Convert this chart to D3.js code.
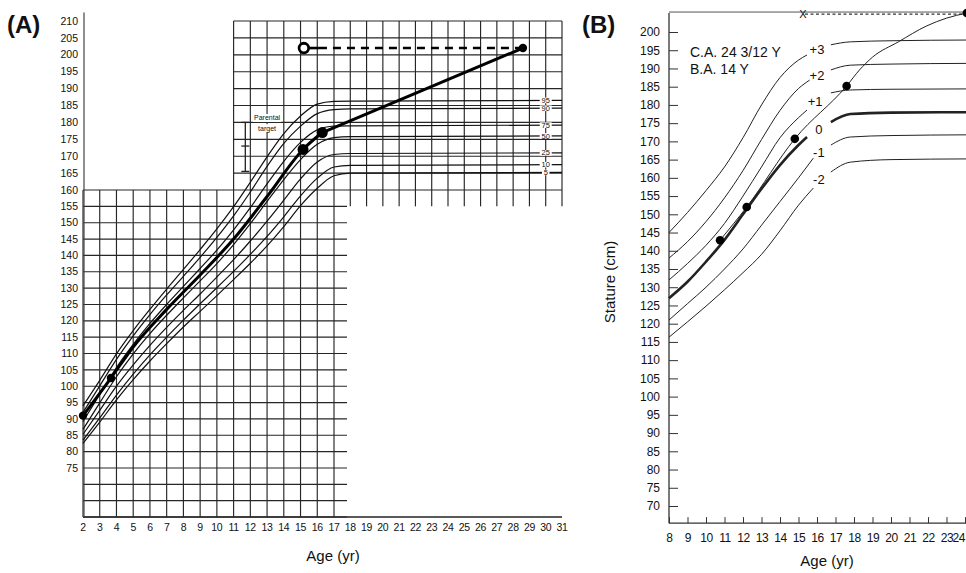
<!DOCTYPE html>
<html><head><meta charset="utf-8">
<script src="https://cdn.jsdelivr.net/npm/d3@7"></script>
<style>body{margin:0;background:#fff} svg{display:block} text{font-family:"Liberation Sans",Arial,sans-serif;fill:#111}</style>
</head><body>
<svg id="c" width="966" height="573"></svg>
<script>
// ---------- Panel A data (percentile chart, stature cm) ----------
const ageA = [2,3,4,5,6,7,8,9,10,11,12,13,14,15,16,17,18,31];
const p5  = [82.5,89.0,95.8,102.0,107.7,113.0,118.1,122.9,127.7,132.6,137.6,142.9,148.8,155.2,160.5,164.2,165.0,165.2];
const p10 = [83.5,90.3,97.3,103.7,109.6,115.0,120.2,125.2,130.1,135.1,140.3,145.8,151.8,158.2,163.5,166.8,167.3,167.5];
const p25 = [85.3,92.6,100.0,106.5,112.5,118.0,123.2,128.2,133.4,138.7,144.4,150.5,156.9,163.3,168.3,170.5,170.8,171.0];
const p50 = [86.8,94.9,102.9,109.9,116.1,121.7,127.0,132.2,137.5,143.3,149.7,156.5,163.1,169.0,173.5,175.5,175.8,176.0];
const p75 = [89.2,97.5,105.7,112.8,119.2,125.0,130.5,136.0,141.6,147.8,154.6,161.8,168.5,174.1,177.8,178.9,179.0,179.2];
const p90 = [92.0,100.1,108.2,115.4,121.9,127.9,133.6,139.4,145.5,152.1,159.4,167.0,173.8,178.9,182.6,183.8,184.0,184.2];
const p95 = [94.0,101.8,109.9,117.0,123.5,129.7,135.7,141.8,148.1,154.9,162.3,169.8,176.7,181.9,185.4,186.2,186.3,186.5];
const pctNames = ["5","10","25","50","75","90","95"];
const pctSeries = [p5,p10,p25,p50,p75,p90,p95];
const xTicksA = d3.range(2,32);
const yTicksA = d3.range(75,211,5);
// patient (A)
const patAgeA = [2,3.67,5,7,9,11,13,15.15,16.3];
const patHtA  = [91,102.5,112,123.5,134,145,158,172,177];
const patDotAgeA = [2,3.67,15.15,16.3,28.6];
const patDotHtA  = [91,102.5,172,177,202];
const predAge = [15.2,28.6]; const predHt = [202,202];
const parentAge = 11.7; const parentRange = [165.5,173,180];

// ---------- Panel B data (SD chart) ----------
const bAges = [8,9,10,11,12,13,14,15];
const sdNames = ["-2","-1","0","+1","+2","+3"];
const sdGrowth = [
  [116.3,120.5,124.8,129.3,134,139,145.5,152.5],
  [121,125.5,130,135,140.5,147,153.5,160],
  [127,131.5,137,143,150,157,163.5,169],
  [132,136.5,141.5,147.5,155,163,171,176.5],
  [138,142.5,148,154.5,162,170.5,178.5,184.5],
  [145,150.5,156.5,163,171,180,187.5,192.3]];
const sdEndAge = [15.8,15.8,15.46,15.46,15.6,15.46];
const sdEndVal = [157.2,165.4,171.2,178.6,186.8,193.7];
const bAdultAges = [16.75,17.8,20,24.3];
const sdAdult = [
  [161.6,164.3,165.0,165.2],
  [169.0,171.2,171.6,171.8],
  [175.3,177.5,177.9,178.0],
  [183.3,184.1,184.3,184.4],
  [189.6,190.9,191.2,191.4],
  [196.5,197.3,197.6,197.8]];
const sdLabelAge = [16.1,16.1,16.1,15.9,16.0,16.0];
const sdLabelVal = [159.5,167.0,173.3,181.0,188.2,195.3];
const patAgeB = [10.76,12.2,14.8,17.6,18.3,19,20.4,21.9,23,24.1];
const patHtB  = [142.9,152,170.7,185.2,189.6,193.1,197.3,201.6,203.8,205.2];
const patDotAgeB = [10.76,12.2,14.8,17.6,24.1];
const patDotHtB  = [142.9,152,170.7,185.2,205.2];
const xTicksB = d3.range(8,25);
const yTicksB = d3.range(70,201,5);

const svg = d3.select("#c");

// ================= PANEL A =================
const xA = d3.scaleLinear().domain([2,17,31]).range([83,334,562]);
const yA = d3.scaleLinear().domain([60,160,210]).range([517,190,21]);
const gA = svg.append("g");
const grid = gA.append("g").attr("stroke","#262626").attr("stroke-width",1.15);
d3.range(2,18).forEach(a=>grid.append("line").attr("x1",xA(a)).attr("x2",xA(a)).attr("y1",yA(60)).attr("y2",yA(160)));
d3.range(60,160,5).forEach(h=>grid.append("line").attr("x1",xA(2)).attr("x2",xA(17.8)).attr("y1",yA(h)).attr("y2",yA(h)));
grid.append("line").attr("x1",xA(2)).attr("x2",xA(31)).attr("y1",yA(160)).attr("y2",yA(160));
d3.range(11,32).forEach(a=>grid.append("line").attr("x1",xA(a)).attr("x2",xA(a)).attr("y1",yA(210)).attr("y2",yA(a>=18?155:160)));
d3.range(165,211,5).forEach(h=>grid.append("line").attr("x1",xA(11)).attr("x2",xA(31)).attr("y1",yA(h)).attr("y2",yA(h)));
gA.append("line").attr("x1",xA(2)).attr("x2",xA(31)).attr("y1",yA(60)).attr("y2",yA(60)).attr("stroke","#222").attr("stroke-width",1.3);
gA.append("line").attr("x1",xA(2)+1).attr("x2",xA(2)+1).attr("y1",yA(60)).attr("y2",yA(212.5)).attr("stroke","#444").attr("stroke-width",1.2);

gA.selectAll("text.ya").data(yTicksA).join("text").attr("class","ya")
  .attr("x",78).attr("y",d=>yA(d)).attr("dy","0.35em").attr("text-anchor","end")
  .attr("font-size",10.5).text(d=>d);
gA.selectAll("text.xa").data(xTicksA).join("text").attr("class","xa")
  .attr("x",d=>xA(d)).attr("y",527).attr("dy","0.35em").attr("text-anchor","middle")
  .attr("font-size",10.5).attr("letter-spacing",-0.3).text(d=>d);
gA.append("text").attr("x",333).attr("y",561).attr("text-anchor","middle").attr("font-size",15).text("Age (yr)");
svg.append("text").attr("x",7).attr("y",33).attr("font-size",24).attr("font-weight","bold").text("(A)");

const lineA = d3.line().x(d=>xA(d[0])).y(d=>yA(d[1])).curve(d3.curveMonotoneX);
pctSeries.forEach(s=>{
  gA.append("path").attr("d",lineA(ageA.map((a,i)=>[a,s[i]]))).attr("fill","none").attr("stroke","#111").attr("stroke-width",1.2);
});
pctSeries.forEach((s,i)=>{
  const y = yA(s[s.length-1]);
  const w = pctNames[i].length*4.5+3;
  gA.append("rect").attr("x",xA(30)-w/2).attr("y",y-2.8).attr("width",w).attr("height",5.6).attr("fill","#fff");
  gA.append("text").attr("x",xA(30)).attr("y",y).attr("dy","0.35em").attr("text-anchor","middle").attr("font-size",7.5).text(pctNames[i]);
});

const pt = gA.append("g").attr("stroke","#222").attr("stroke-width",1.3);
pt.append("line").attr("x1",xA(parentAge)).attr("x2",xA(parentAge)).attr("y1",yA(parentRange[0])).attr("y2",yA(parentRange[2]));
parentRange.forEach(v=>pt.append("line").attr("x1",xA(parentAge)-4).attr("x2",xA(parentAge)+4).attr("y1",yA(v)).attr("y2",yA(v)));
[["Parental",181.3],["target",178.3]].forEach(([t,v])=>{
  gA.append("rect").attr("x",xA(13)-14).attr("y",yA(v)-4).attr("width",28).attr("height",8).attr("fill","#fff");
  gA.append("text").attr("x",xA(13)).attr("y",yA(v)).attr("dy","0.35em").attr("text-anchor","middle").attr("font-size",7).text(t);
});

const lineLinA = d3.line().x(d=>xA(d[0])).y(d=>yA(d[1]));
gA.append("path").attr("d",lineA(patAgeA.map((a,i)=>[a,patHtA[i]]))).attr("fill","none").attr("stroke","#000").attr("stroke-width",3);
gA.append("path").attr("d",lineLinA([[patDotAgeA[3],patDotHtA[3]],[patDotAgeA[4],patDotHtA[4]]])).attr("fill","none").attr("stroke","#000").attr("stroke-width",3);
gA.append("path").attr("d",lineLinA([[predAge[0],predHt[0]],[predAge[0]+0.9,predHt[0]]])).attr("stroke","#000").attr("stroke-width",2.6);
gA.append("path").attr("d",lineLinA([[predAge[0]+0.9,predHt[0]],[predAge[1],predHt[1]]])).attr("stroke","#000").attr("stroke-width",2.6).attr("stroke-dasharray","8,6");
gA.append("circle").attr("cx",xA(predAge[0])).attr("cy",yA(predHt[0])).attr("r",4.8).attr("fill","#fff").attr("stroke","#000").attr("stroke-width",2.8);
patDotAgeA.forEach((a,i)=>{
  gA.append("circle").attr("cx",xA(a)).attr("cy",yA(patDotHtA[i])).attr("r",(i===2||i===3)?5.5:4.2).attr("fill","#000");
});

// ================= PANEL B =================
const xB = d3.scaleLinear().domain([8,24]).range([669,965]);
const yB = d3.scaleLinear().domain([70,200]).range([506,32]);
const gB = svg.append("g");
const axL = gB.append("g").attr("transform",`translate(${xB(8)},0)`)
  .call(d3.axisLeft(yB).tickValues(yTicksB).tickSize(-9).tickPadding(9));
axL.select(".domain").remove();
axL.selectAll("text").attr("font-size",12).attr("font-family","Liberation Sans, Arial, sans-serif").attr("fill","#111");
axL.selectAll("line").attr("stroke","#333");
const axB = gB.append("g").attr("transform",`translate(0,${yB(65.3)})`)
  .call(d3.axisBottom(xB).tickValues(xTicksB).tickSize(-6).tickPadding(10));
axB.select(".domain").remove();
axB.selectAll("text").attr("font-size",12).attr("font-family","Liberation Sans, Arial, sans-serif").attr("fill","#111").attr("letter-spacing",-0.4)
  .attr("text-anchor",d=>d===24?"end":"middle").attr("dx",d=>d===24?"-0.5":"0");
axB.selectAll("line").attr("stroke","#333");
gB.append("line").attr("x1",xB(8)).attr("x2",xB(8)).attr("y1",yB(65.3)).attr("y2",yB(205.2)).attr("stroke","#333").attr("stroke-width",1.3);
gB.append("line").attr("x1",xB(8)).attr("x2",966).attr("y1",yB(65.3)).attr("y2",yB(65.3)).attr("stroke","#333").attr("stroke-width",1.3);
gB.append("line").attr("x1",xB(8)).attr("x2",966).attr("y1",yB(205.2)-1).attr("y2",yB(205.2)-1).attr("stroke","#555").attr("stroke-width",1);
gB.append("line").attr("x1",xB(15.35)).attr("x2",966).attr("y1",yB(205.2)+1).attr("y2",yB(205.2)+1).attr("stroke","#333").attr("stroke-width",1.2).attr("stroke-dasharray","3,2.5");
gB.append("text").attr("x",xB(15.24)).attr("y",yB(205.2)+1).attr("dy","0.35em").attr("text-anchor","middle").attr("font-size",11).text("X");

const lineB = d3.line().x(d=>xB(d[0])).y(d=>yB(d[1])).curve(d3.curveMonotoneX);
sdGrowth.forEach((s,i)=>{
  const pts = bAges.map((a,j)=>[a,s[j]]).concat([[sdEndAge[i],sdEndVal[i]]]);
  const w = sdNames[i]==="0"?2.6:1;
  gB.append("path").attr("d",lineB(pts)).attr("fill","none").attr("stroke","#222").attr("stroke-width",w);
  gB.append("path").attr("d",lineB(bAdultAges.map((a,j)=>[a,sdAdult[i][j]]))).attr("fill","none").attr("stroke","#222").attr("stroke-width",w);
  gB.append("text").attr("x",xB(sdLabelAge[i])).attr("y",yB(sdLabelVal[i])).attr("dy","0.35em").attr("text-anchor","middle").attr("font-size",13).text(sdNames[i]);
});
gB.append("path").attr("d",lineB(patAgeB.map((a,i)=>[a,patHtB[i]]))).attr("fill","none").attr("stroke","#222").attr("stroke-width",1);
patDotAgeB.forEach((a,i)=>gB.append("circle").attr("cx",xB(a)).attr("cy",yB(patDotHtB[i])).attr("r",4.3).attr("fill","#000"));

gB.append("text").attr("x",690).attr("y",57).attr("font-size",14).text("C.A. 24 3/12 Y");
gB.append("text").attr("x",690).attr("y",74).attr("font-size",14).text("B.A. 14 Y");
gB.append("text").attr("transform","translate(615,282) rotate(-90)").attr("text-anchor","middle").attr("font-size",15).text("Stature (cm)");
gB.append("text").attr("x",827).attr("y",566).attr("text-anchor","middle").attr("font-size",15).text("Age (yr)");
svg.append("text").attr("x",582).attr("y",33).attr("font-size",24).attr("font-weight","bold").text("(B)");
</script>
</body></html>
